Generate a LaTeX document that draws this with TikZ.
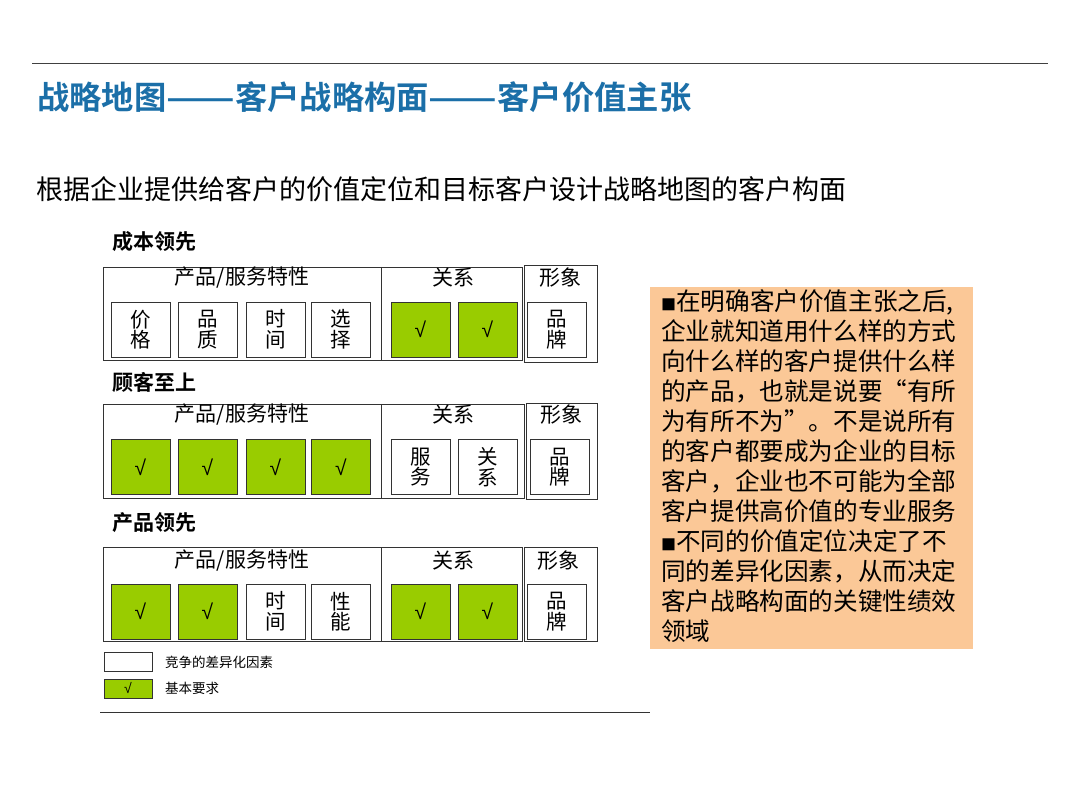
\documentclass[tikz,border=0pt]{standalone}
\usepackage{fontspec}
\setmainfont{Noto Sans CJK SC}
\newfontfamily\cjkbold[BoldFont=*]{Noto Sans CJK SC Bold}
\newfontfamily\chkfont{Liberation Sans}
\usetikzlibrary{positioning}
\definecolor{titleblue}{HTML}{1B6FA8}
\definecolor{chkgreen}{HTML}{99CC00}
\definecolor{notefill}{HTML}{FBC897}
\tikzset{
x=1pt,y=-1pt,
fs/.style={font=\fontsize{#1}{#1}\selectfont},
cell/.style={rectangle,draw=black!80,line width=0.9pt,fill=white,minimum width=59pt,minimum height=55pt,inner sep=0pt,align=center,fs=20.5,text=black},
chk/.style={cell,fill=chkgreen,font=\chkfont\fontsize{21}{21}\selectfont},
hd/.style={fs=21,inner sep=0pt},
lbl/.style={font=\cjkbold\fontsize{21}{21}\selectfont,anchor=west,inner sep=0pt},
frame/.style={draw=black!80,line width=0.9pt},
key/.style={fs=13.5,anchor=west,inner sep=0pt},
}
\newcommand{\vt}[2]{\fontsize{20.5}{19}\selectfont #1\\#2}
\newcommand{\dsh}{\scalebox{1.25}[1]{——}}
\newcommand{\blt}{{\fontsize{15}{15}\selectfont ■}}
\begin{document}
\begin{tikzpicture}
\useasboundingbox (0,0) rectangle (1080,810);
\draw[black!75,line width=1pt] (32,64) -- (1048,64);
\node[font=\cjkbold\fontsize{32.3}{32.3}\selectfont,text=titleblue,anchor=west,inner sep=0pt] (title) at (37,97) {战略地图\dsh 客户战略构面\dsh 客户价值主张};
\node[fs=27,anchor=west,inner sep=0pt] (sub) at (36,189) {根据企业提供给客户的价值定位和目标客户设计战略地图的客户构面};

% 成本领先
\node[lbl] (l1) at (112,242) {成本领先};
\draw[frame] (103,267) rectangle (522,360);
\draw[frame] (381,267) -- (381,360);
\draw[frame] (524,265) rectangle (597,362);
\node[hd] (h1a) at (242,278) {产品/服务特性};
\node[hd] (h1b) at (453,278) {关系};
\node[hd] (h1c) at (560,278) {形象};
\node[cell] (c1a) at (140.5,329.5) {\vt{价}{格}};
\node[cell] (c1b) at (207.5,329.5) {\vt{品}{质}};
\node[cell] (c1c) at (275.5,329.5) {\vt{时}{间}};
\node[cell] (c1d) at (341,329.5) {\vt{选}{择}};
\node[chk] (c1e) at (420.5,329.5) {√};
\node[chk] (c1f) at (487.5,329.5) {√};
\node[cell] (c1g) at (557,329.5) {\vt{品}{牌}};

% 顾客至上
\node[lbl] (l2) at (112,382) {顾客至上};
\draw[frame] (103,404) rectangle (524,498);
\draw[frame] (381,404) -- (381,498);
\draw[frame] (526,403) rectangle (597,499);
\node[hd] (h2a) at (242,415) {产品/服务特性};
\node[hd] (h2b) at (453,415) {关系};
\node[hd] (h2c) at (561,415) {形象};
\node[chk] (c2a) at (140.5,467) {√};
\node[chk] (c2b) at (207.5,467) {√};
\node[chk] (c2c) at (275.5,467) {√};
\node[chk] (c2d) at (341,467) {√};
\node[cell] (c2e) at (420.5,467) {\vt{服}{务}};
\node[cell] (c2f) at (487.5,467) {\vt{关}{系}};
\node[cell] (c2g) at (560,467) {\vt{品}{牌}};

% 产品领先
\node[lbl] (l3) at (112,523) {产品领先};
\draw[frame] (103,547) rectangle (522,641);
\draw[frame] (381,547) -- (381,641);
\draw[frame] (524,547) rectangle (597,641);
\node[hd] (h3a) at (242,561) {产品/服务特性};
\node[hd] (h3b) at (453,561) {关系};
\node[hd] (h3c) at (558,561) {形象};
\node[chk] (c3a) at (140.5,611.5) {√};
\node[chk] (c3b) at (207.5,611.5) {√};
\node[cell] (c3c) at (275.5,611.5) {\vt{时}{间}};
\node[cell] (c3d) at (341,611.5) {\vt{性}{能}};
\node[chk] (c3e) at (420.5,611.5) {√};
\node[chk] (c3f) at (487.5,611.5) {√};
\node[cell] (c3g) at (557,611.5) {\vt{品}{牌}};

% legend
\node[cell,minimum width=48pt,minimum height=19pt] (k1) at (128,661.5) {};
\node[chk,minimum width=48pt,minimum height=19pt,font=\chkfont\fontsize{14}{14}\selectfont] (k2) at (128,688.5) {√};
\node[key] (t1) at (165,662) {竞争的差异化因素};
\node[key] (t2) at (165,688) {基本要求};
\draw[black!80,line width=1pt] (100,712) -- (650,712);

% note
\node[rectangle,fill=notefill,minimum width=323pt,minimum height=362pt,inner sep=0pt] (note) at (811.5,468) {};
\node[anchor=north west,align=left,inner sep=0pt,font=\fontsize{24.6}{30}\selectfont] (notetxt) at (661,289) {\blt 在明确客户价值主张之后,\\企业就知道用什么样的方式\\向什么样的客户提供什么样\\的产品，也就是说要“有所\\为有所不为”。不是说所有\\的客户都要成为企业的目标\\客户，企业也不可能为全部\\客户提供高价值的专业服务\\\blt 不同的价值定位决定了不\\同的差异化因素，从而决定\\客户战略构面的关键性绩效\\领域};
\end{tikzpicture}
\end{document}
